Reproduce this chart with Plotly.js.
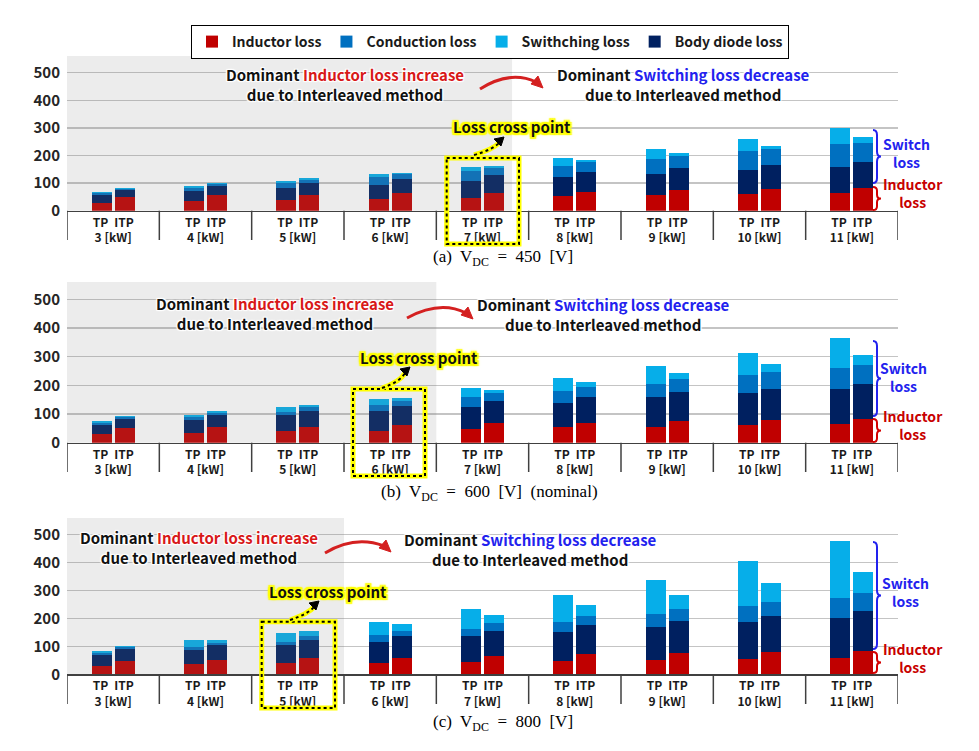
<!DOCTYPE html>
<html>
<head>
<meta charset="utf-8">
<script src="https://cdn.plot.ly/plotly-3.0.1.min.js"></script>
<style>
  html, body { margin: 0; padding: 0; background: #fff; }
  #chart { width: 979px; height: 751px; }
</style>
</head>
<body>
<div id="chart"></div>
<script>
const FONT = '"Noto Sans CJK KR", "Noto Sans", sans-serif';
const SERIF = '"Liberation Serif", "Times New Roman", serif';
const W = 979, H = 751;
// pixel -> paper helpers (margins are zero)
const PX = x => x / W;
const PY = y => 1 - y / H;

// categories
const kw = [3, 4, 5, 6, 7, 8, 9, 10, 11];
const tickValues = [0, 100, 200, 300, 400, 500];

const seriesNames = ['Inductor loss', 'Body diode loss', 'Conduction loss', 'Swithching loss'];
const seriesColors = ['#c00000', '#002060', '#0070c0', '#06aee9'];
const legendRanks = [1, 4, 2, 3];

// (a) Vdc = 450 V
const tpInductor450 = [29, 36, 40, 42, 47, 53, 57, 59, 65];
const tpDiode450 = [27, 36, 42, 52, 62, 69, 77, 88, 94];
const tpConduction450 = [9, 11, 17, 29, 34, 41, 54, 69, 83];
const tpSwitching450 = [4, 6, 8, 9, 14, 27, 34, 42, 56];
const itpInductor450 = [50, 57, 57, 63, 65, 69, 76, 78, 83];
const itpDiode450 = [26, 31, 43, 52, 63, 72, 79, 89, 93];
const itpConduction450 = [4, 8, 13, 18, 25, 37, 43, 56, 69];
const itpSwitching450 = [2, 4, 5, 5, 8, 6, 11, 12, 21];

// (b) Vdc = 600 V
const tpInductor600 = [30, 33, 40, 42, 47, 54, 56, 60, 65];
const tpDiode600 = [33, 46, 55, 69, 78, 86, 102, 114, 122];
const tpConduction600 = [7, 9, 12, 20, 33, 41, 48, 62, 75];
const tpSwitching600 = [6, 10, 18, 22, 32, 46, 63, 78, 104];
const itpInductor600 = [50, 54, 56, 62, 67, 69, 76, 79, 83];
const itpDiode600 = [34, 43, 56, 67, 77, 92, 102, 110, 123];
const itpConduction600 = [4, 6, 11, 17, 28, 33, 43, 57, 66];
const itpSwitching600 = [4, 8, 8, 10, 13, 19, 22, 29, 35];

// (c) Vdc = 800 V
const tpInductor800 = [31, 37, 39, 39, 45, 49, 52, 56, 60];
const tpDiode800 = [37, 51, 66, 78, 92, 104, 117, 130, 142];
const tpConduction800 = [7, 10, 12, 24, 26, 35, 46, 59, 71];
const tpSwitching800 = [10, 24, 32, 45, 72, 95, 123, 162, 206];
const itpInductor800 = [49, 52, 60, 60, 66, 72, 75, 79, 85];
const itpDiode800 = [41, 53, 64, 77, 90, 103, 117, 130, 143];
const itpConduction800 = [6, 8, 13, 18, 27, 32, 42, 51, 62];
const itpSwitching800 = [5, 11, 17, 24, 28, 40, 50, 66, 78];

const panels = [
    {
        caption: '(a)  V<sub>DC</sub>  =  450  [V]', capX: 503, capY: 258,
        tp: [tpInductor450, tpDiode450, tpConduction450, tpSwitching450],
        itp: [itpInductor450, itpDiode450, itpConduction450, itpSwitching450],
        zero: 210.7, top: 56.1, labelBottom: 240, grayEnd: 4.32,
        left: [345, 84.5], right: [683, 85],
        swoosh: [480, 89, 510, 70, 540, 85],
        cross: [512, 127], crossBox: [446.7, 158, 519, 244], dotArrow: [474, 155, 492, 150, 502, 139],
        brace: [130, 183, 187, 210], swText: [906, 153.5], indText: [913, 193.5]
    },
    {
        caption: '(b)  V<sub>DC</sub>  =  600  [V]  (nominal)', capX: 489, capY: 493,
        tp: [tpInductor600, tpDiode600, tpConduction600, tpSwitching600],
        itp: [itpInductor600, itpDiode600, itpConduction600, itpSwitching600],
        zero: 442.7, top: 282.1, labelBottom: 472, grayEnd: 3.5,
        left: [275, 313], right: [603, 314.5],
        swoosh: [407, 318, 440, 300, 470, 316],
        cross: [419, 358], crossBox: [353, 389, 425, 476], dotArrow: [382, 388, 400, 382, 408, 369],
        brace: [341, 416, 419, 442], swText: [903, 377], indText: [913, 425]
    },
    {
        caption: '(c)  V<sub>DC</sub>  =  800  [V]', capX: 503, capY: 723,
        tp: [tpInductor800, tpDiode800, tpConduction800, tpSwitching800],
        itp: [itpInductor800, itpDiode800, itpConduction800, itpSwitching800],
        zero: 674.3, top: 517.9, labelBottom: 704, grayEnd: 2.5,
        left: [199, 547.5], right: [530, 549.5],
        swoosh: [325, 553, 355, 535, 388, 549],
        cross: [328, 591], crossBox: [261.7, 621.7, 335, 708], dotArrow: [290, 620, 308, 614, 317, 603],
        brace: [542, 649, 652, 673], swText: [905, 591.5], indText: [913, 658]
    }
];

const OFF = 0.125;
function pairX() {
    const xs = [];
    kw.forEach((k, i) => { xs.push(i - OFF, i + OFF); });
    return xs;
}
function pairY(tp, itp) {
    const ys = [];
    tp.forEach((v, i) => { ys.push(v, itp[i]); });
    return ys;
}

const halo = '1px 1px 1px #fff, -1px -1px 1px #fff, 1px -1px 1px #fff, -1px 1px 1px #fff, 0 0 3px #fff';
const yellowHalo = '2px 2px 1px #ff0, -2px -2px 1px #ff0, 2px -2px 1px #ff0, -2px 2px 1px #ff0, 0 2px 1px #ff0, 0 -2px 1px #ff0, 2px 0 1px #ff0, -2px 0 1px #ff0, 0 0 4px #ff0';

function ann(text, x, y, font) {
    return {
        text: text, x: PX(x), y: PY(y), xref: 'paper', yref: 'paper',
        showarrow: false, xanchor: 'center', yanchor: 'middle', font: font
    };
}

function ppath(points) {
    // points: list of [cmd, x, y, ...] in pixels
    return points.map(p => p[0] + p.slice(1).map((v, j) => j % 2 === 0 ? PX(v) : PY(v)).join(',')).join(' ');
}

function bracePath(x0, yTop, yBot, w) {
    const yMid = (yTop + yBot) / 2, r = Math.min(5, (yBot - yTop) / 6), xm = x0 + w / 2;
    return ppath([
        ['M', x0, yTop], ['Q', xm, yTop, xm, yTop + r], ['L', xm, yMid - r],
        ['Q', xm, yMid, x0 + w, yMid], ['Q', xm, yMid, xm, yMid + r], ['L', xm, yBot - r],
        ['Q', xm, yBot, x0, yBot]
    ]);
}

const traces = [];
const shapes = [];
const annotations = [];
const layout = {
    width: W, height: H,
    margin: {l: 0, r: 0, t: 0, b: 0},
    paper_bgcolor: '#fff', plot_bgcolor: '#fff',
    barmode: 'stack',
    showlegend: true,
    legend: {
        orientation: 'h', x: PX(191), y: PY(25), xanchor: 'left', yanchor: 'top',
        bordercolor: '#000', borderwidth: 1, bgcolor: '#fff',
        font: {family: FONT, size: 14, color: '#1a1a1a', weight: 700},
        traceorder: 'normal', itemclick: false, itemdoubleclick: false
    }
};

const red = '#d81818', blue = '#2222ee';
const textFont = {family: FONT, size: 15, color: '#111', weight: 700, shadow: halo};

panels.forEach((p, k) => {
    const sfx = k === 0 ? '' : String(k + 1);
    const xa = 'x' + sfx, ya = 'y' + sfx;

    seriesNames.forEach((name, s) => {
        traces.push({
            type: 'bar', name: name, x: pairX(), y: pairY(p.tp[s], p.itp[s]),
            xaxis: xa, yaxis: ya, width: 0.215,
            marker: {color: seriesColors[s], line: {width: 0}},
            legendgroup: name, showlegend: k === 0, legendrank: legendRanks[s],
            hovertemplate: name + ': %{y}<extra></extra>'
        });
    });

    layout['xaxis' + sfx] = {
        domain: [PX(67), PX(898)], range: [-0.5, 8.5], anchor: ya,
        tickvals: kw.map((_, i) => i),
        ticktext: kw.map(v => 'TP\u2002ITP<br>' + v + ' [kW]'),
        showgrid: false, zeroline: false, showline: true, linecolor: '#404040', linewidth: 1.5,
        ticks: '',
        tickfont: {family: FONT, size: 12, color: '#1a1a1a', weight: 700}, fixedrange: true
    };
    layout['yaxis' + sfx] = {
        domain: [PY(p.zero), PY(p.top)], range: [0, 560], anchor: xa,
        tickvals: tickValues, gridcolor: '#c4c4c4', gridwidth: 1.5,
        zeroline: false, showline: false, ticks: '',
        tickfont: {family: FONT, size: 15, color: '#262626', weight: 700},
        ticklabelstandoff: 6, fixedrange: true
    };

    // shaded region (semi-transparent so bars under it look muted)
    shapes.push({type: 'rect', xref: xa, yref: ya + ' domain', x0: -0.5, x1: p.grayEnd, y0: 0, y1: 1,
        fillcolor: 'rgba(128,128,128,0.15)', line: {width: 0}, layer: 'above'});

    // category dividers under the axis
    for (let i = 0; i <= kw.length; i++) {
        shapes.push({type: 'line', xref: xa, yref: 'paper', x0: i - 0.5, x1: i - 0.5,
            y0: PY(p.zero), y1: PY(p.labelBottom), line: {color: '#404040', width: 1.5}});
    }

    // loss cross point box
    const b = p.crossBox;
    shapes.push({type: 'rect', xref: 'paper', yref: 'paper', x0: PX(b[0]), x1: PX(b[2]), y0: PY(b[1]), y1: PY(b[3]),
        line: {color: '#ffff00', width: 5}, layer: 'above'});
    shapes.push({type: 'rect', xref: 'paper', yref: 'paper', x0: PX(b[0]), x1: PX(b[2]), y0: PY(b[1]), y1: PY(b[3]),
        line: {color: '#000', width: 2, dash: 'dot'}, layer: 'above'});

    // dotted arrow from the box to the label
    const d = p.dotArrow;
    const dpath = ppath([['M', d[0], d[1]], ['Q', d[2], d[3], d[4] - 3, d[5] + 4]]);
    shapes.push({type: 'path', xref: 'paper', yref: 'paper', path: dpath, line: {color: '#ffff00', width: 5}, layer: 'above'});
    shapes.push({type: 'path', xref: 'paper', yref: 'paper', path: dpath, line: {color: '#000', width: 2, dash: 'dot'}, layer: 'above'});
    shapes.push({type: 'path', xref: 'paper', yref: 'paper', layer: 'above',
        path: ppath([['M', d[4] + 2, d[5] - 2], ['L', d[4] - 8, d[5] + 0], ['L', d[4] - 1, d[5] + 7]]) + ' Z',
        fillcolor: '#000', line: {color: '#000', width: 1}});

    // red swoosh arrow
    const w = p.swoosh;
    shapes.push({type: 'path', xref: 'paper', yref: 'paper', layer: 'above',
        path: ppath([['M', w[0], w[1]], ['Q', w[2], w[3], w[4] - 4, w[5] - 3]]),
        line: {color: '#d42020', width: 3}});
    shapes.push({type: 'path', xref: 'paper', yref: 'paper', layer: 'above',
        path: ppath([['M', w[4] + 3, w[5] + 3], ['L', w[4] - 9, w[5] - 1], ['L', w[4] - 2, w[5] - 9]]) + ' Z',
        fillcolor: '#d42020', line: {color: '#d42020', width: 1}});

    // braces
    const br = p.brace;
    shapes.push({type: 'path', xref: 'paper', yref: 'paper', path: bracePath(873, br[0], br[1], 8),
        line: {color: '#2222ee', width: 2}});
    shapes.push({type: 'path', xref: 'paper', yref: 'paper', path: bracePath(873, br[2], br[3], 8),
        line: {color: '#d40000', width: 2}});

    // texts
    annotations.push(ann('Dominant <span style="color:' + red + '">Inductor loss increase</span><br>due to Interleaved method',
        p.left[0], p.left[1], textFont));
    annotations.push(ann('Dominant <span style="color:' + blue + '">Switching loss decrease</span><br>due to Interleaved method',
        p.right[0], p.right[1], textFont));
    annotations.push(ann('Loss cross point', p.cross[0], p.cross[1],
        {family: FONT, size: 15, color: '#111', weight: 700, shadow: yellowHalo}));
    annotations.push(ann('Switch<br>loss', p.swText[0], p.swText[1], {family: FONT, size: 14, color: blue, weight: 700}));
    annotations.push(ann('Inductor<br>loss', p.indText[0], p.indText[1], {family: FONT, size: 14, color: '#c80000', weight: 700}));
    annotations.push(ann(p.caption, p.capX, p.capY, {family: SERIF, size: 17, color: '#000'}));
});

layout.shapes = shapes;
layout.annotations = annotations;

Plotly.newPlot('chart', traces, layout, {displayModeBar: false, staticPlot: true});
</script>
</body>
</html>
